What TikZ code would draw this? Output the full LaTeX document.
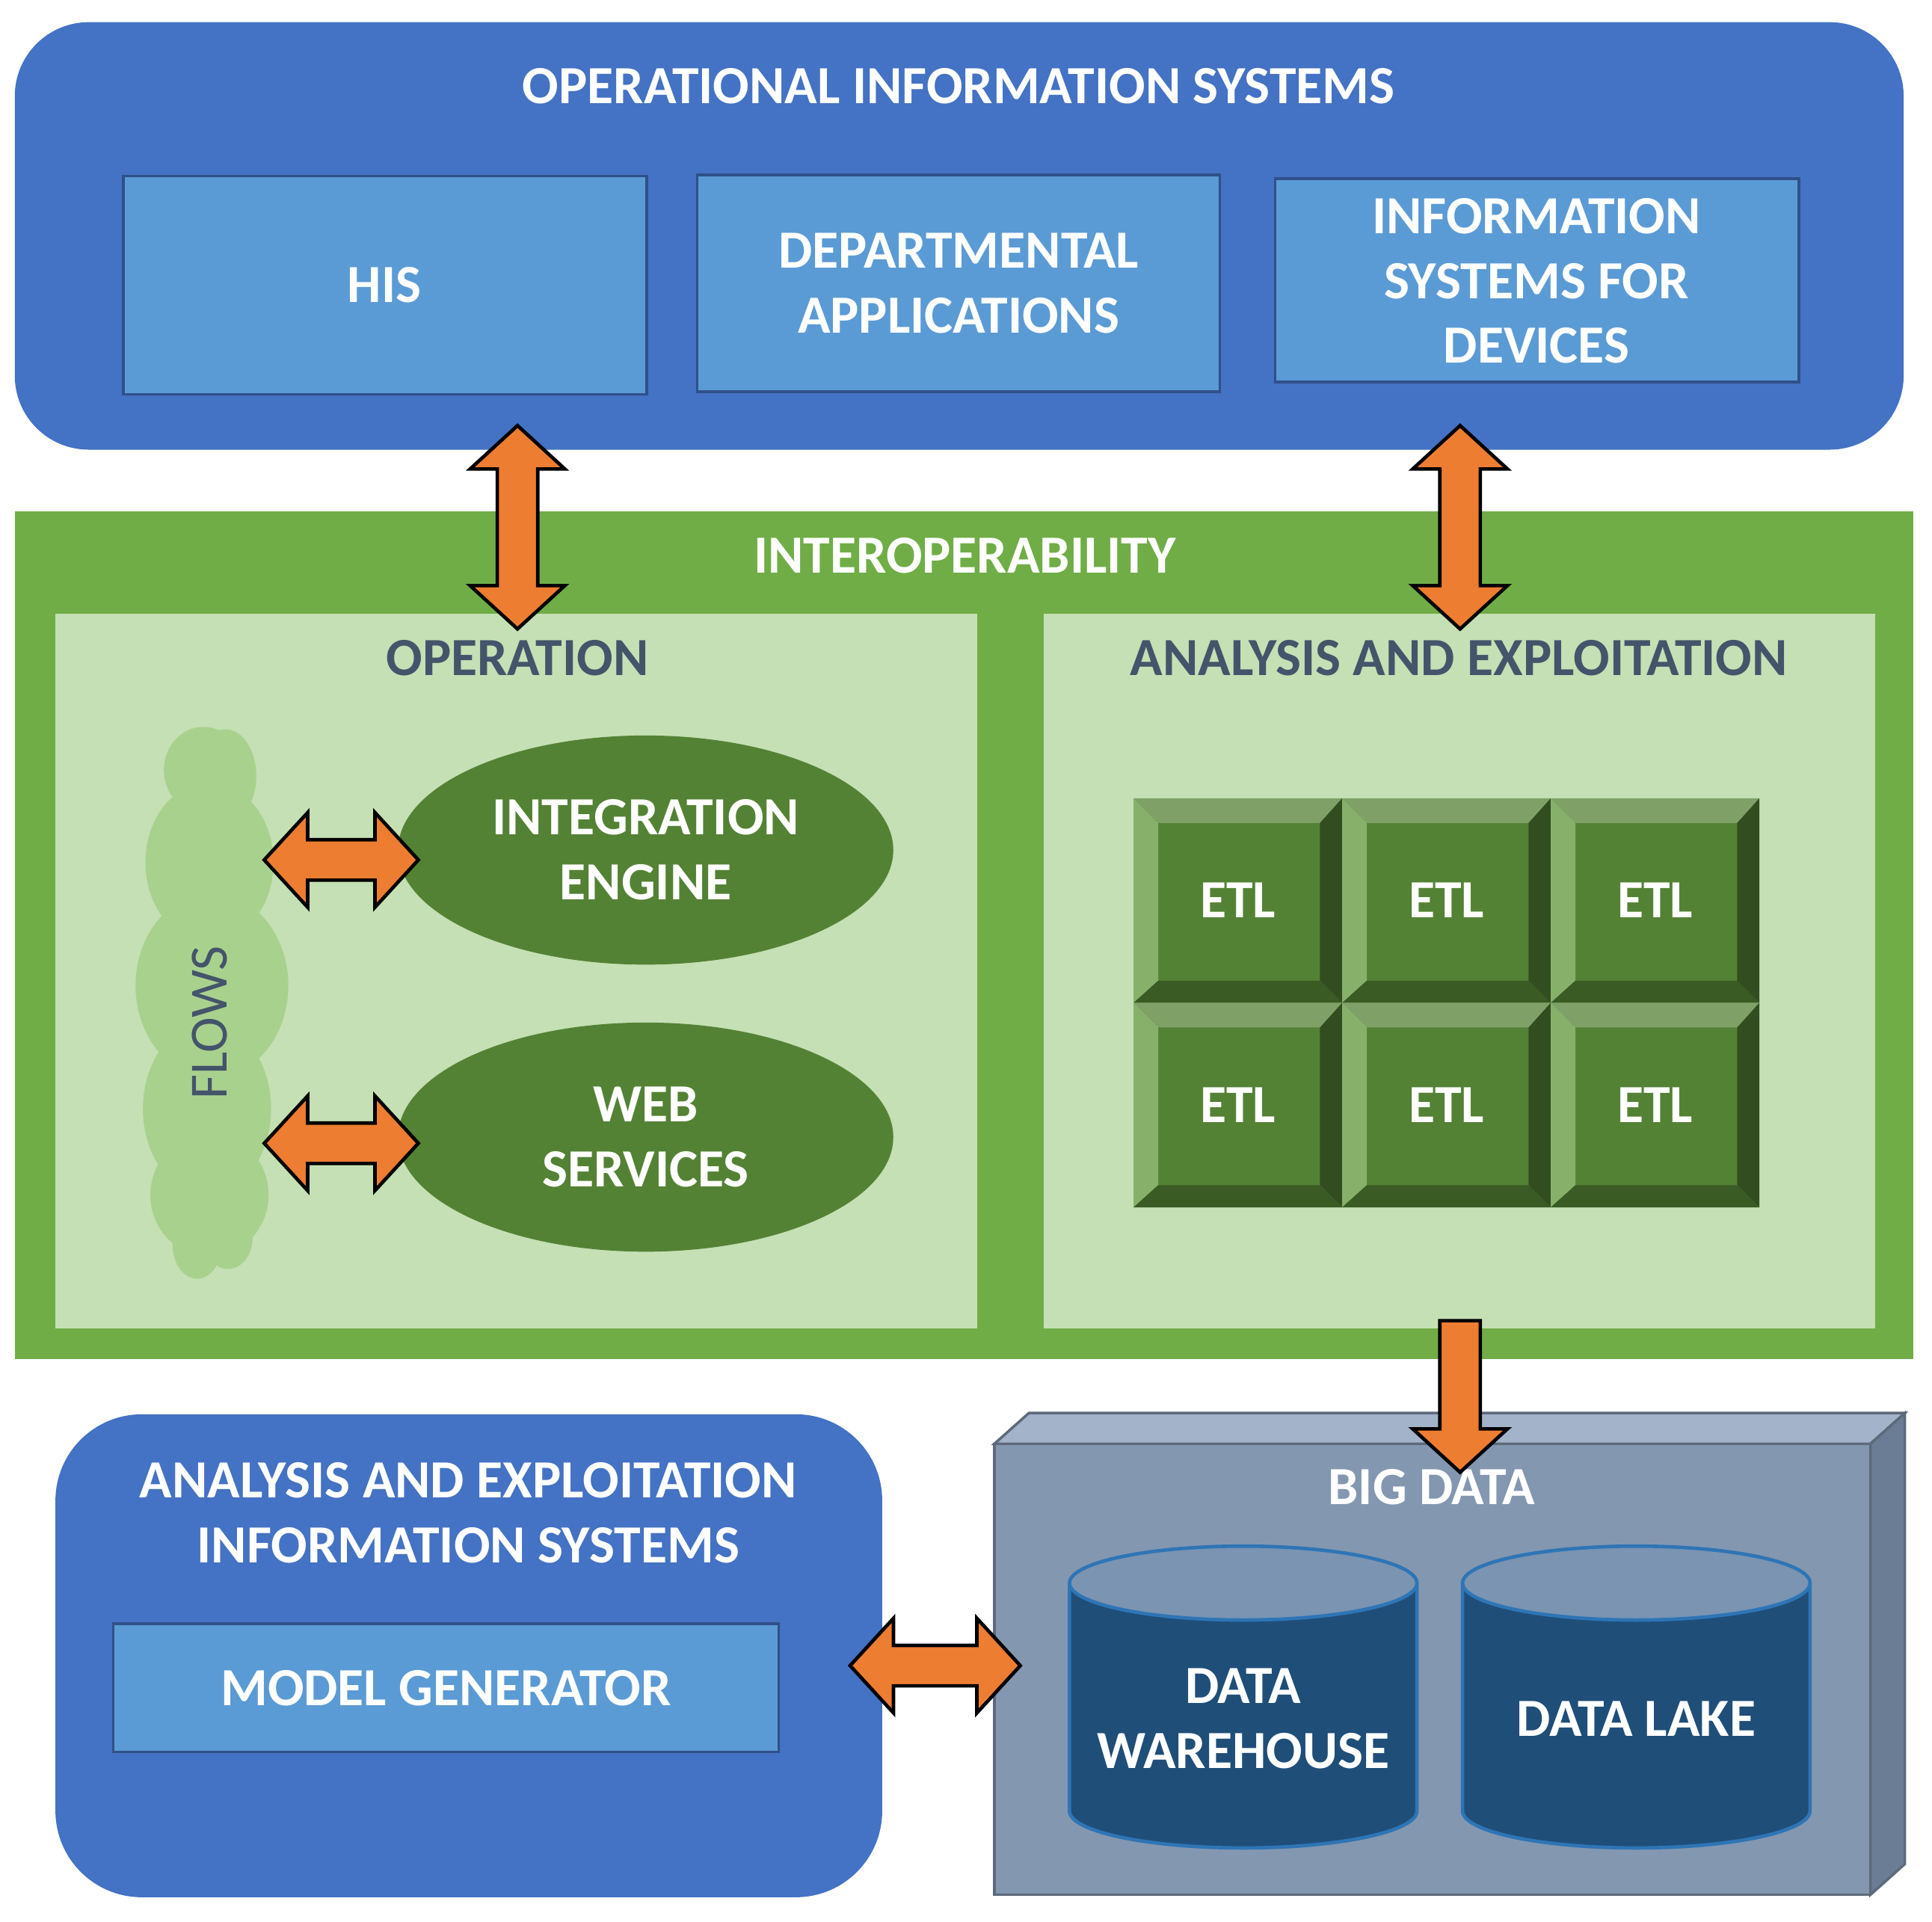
\documentclass[tikz,border=0pt]{standalone}
\usepackage{fontspec}
\setmainfont{Carlito}
\usetikzlibrary{shapes.arrows}
\definecolor{oisblue}{HTML}{4472C4}
\definecolor{boxblue}{HTML}{5B9BD5}
\definecolor{intgreen}{HTML}{70AD47}
\definecolor{panelgreen}{HTML}{C5E0B4}
\definecolor{darkgreen}{HTML}{548235}
\definecolor{cloudgreen}{HTML}{A9D18E}
\definecolor{slate}{HTML}{44546A}
\definecolor{arrorange}{HTML}{ED7D31}
\definecolor{bdfront}{HTML}{8497B0}
\definecolor{bdtop}{HTML}{A3B3C9}
\definecolor{bdside}{HTML}{6A7D95}
\definecolor{cylbody}{HTML}{1F4E79}
\definecolor{cyltop}{HTML}{7A94B2}
\definecolor{cylline}{HTML}{2E75B6}
\begin{document}
\begin{tikzpicture}[x=0.01cm,y=-0.01cm,
  txt/.style={font=\fontsize{12.4}{15}\selectfont\bfseries,text=white,align=center},
  head/.style={font=\fontsize{12.4}{15}\selectfont\bfseries,text=slate,align=center},
  sysbox/.style={fill=boxblue,draw=oisblue!70!black,line width=0.6pt},
  dbl/.style={double arrow,draw=black,fill=arrorange,line width=0.8pt,inner sep=1.5mm,
    double arrow head extend=2.2mm,double arrow tip angle=95},
  sgl/.style={single arrow,draw=black,fill=arrorange,line width=0.8pt,inner sep=1.5mm,
    single arrow head extend=2.2mm,single arrow tip angle=95},
  etl/.style={font=\fontsize{12.4}{15}\selectfont\bfseries,text=white}]
\useasboundingbox (0,0) rectangle (1568,1560);
% operational information systems
\fill[oisblue,rounded corners=6mm] (12,18) rectangle (1545,365);
\node[txt] (ois) at (778,70) {OPERATIONAL INFORMATION SYSTEMS};
\draw[sysbox] (100,143) rectangle (525,320);
\node[txt] (his) at (312,231) {HIS};
\draw[sysbox] (566,142) rectangle (990,318);
\node[txt] (dep) at (778,230) {DEPARTMENTAL\\APPLICATIONS};
\draw[sysbox] (1035,145) rectangle (1460,310);
\node[txt] (isd) at (1247,228) {INFORMATION\\SYSTEMS FOR\\DEVICES};
% interoperability
\fill[intgreen] (12,415) rectangle (1553,1103);
\node[txt] (iop) at (783,451) {INTEROPERABILITY};
\fill[panelgreen] (45,498) rectangle (793,1078);
\fill[panelgreen] (847,498) rectangle (1522,1078);
\node[head] (op) at (420,534) {OPERATION};
\node[head] (ae) at (1184,534) {ANALYSIS AND EXPLOITATION};
% flows cloud
\fill[cloudgreen] (165,625) ellipse [x radius=32,y radius=35]
  (183,630) ellipse [x radius=25,y radius=38]
  (170,700) ellipse [x radius=52,y radius=65]
  (172,800) ellipse [x radius=62,y radius=75]
  (168,900) ellipse [x radius=52,y radius=70]
  (170,970) ellipse [x radius=48,y radius=50]
  (160,1010) ellipse [x radius=20,y radius=28]
  (185,1005) ellipse [x radius=20,y radius=25];
\node[font=\fontsize{12.4}{15}\selectfont,text=slate,rotate=90] (flows) at (170,830) {FLOWS};
% ellipses
\fill[darkgreen] (524,690) ellipse [x radius=201,y radius=93];
\node[txt] (ie) at (524,690) {INTEGRATION\\ENGINE};
\fill[darkgreen] (524,923) ellipse [x radius=201,y radius=93];
\node[txt] (ws) at (524,923) {WEB\\SERVICES};
\node[dbl,minimum height=12.5mm] (a1) at (277,698) {};
\node[dbl,minimum height=12.5mm] (a2) at (277,928) {};
% vertical arrows
\node[dbl,minimum height=16.5mm,rotate=90] (a3) at (420,428) {};
\node[dbl,minimum height=16.5mm,rotate=90] (a4) at (1185,428) {};
% ETL grid
\foreach \c in {0,1,2}{
  \foreach \r in {0,1}{
    \pgfmathsetmacro{\xa}{920+169.3*\c}
    \pgfmathsetmacro{\ya}{648+166*\r}
    \pgfmathsetmacro{\xb}{\xa+169.3}
    \pgfmathsetmacro{\yb}{\ya+166}
    \pgfmathsetmacro{\xi}{\xa+20}
    \pgfmathsetmacro{\yi}{\ya+20}
    \pgfmathsetmacro{\xj}{\xb-18}
    \pgfmathsetmacro{\yj}{\yb-18}
    \fill[darkgreen] (\xa,\ya) rectangle (\xb,\yb);
    \fill[darkgreen!75!white] (\xa,\ya) -- (\xb,\ya) -- (\xj,\yi) -- (\xi,\yi) -- cycle;
    \fill[cloudgreen!60!darkgreen] (\xa,\ya) -- (\xi,\yi) -- (\xi,\yj) -- (\xa,\yb) -- cycle;
    \fill[darkgreen!60!black] (\xb,\ya) -- (\xj,\yi) -- (\xj,\yj) -- (\xb,\yb) -- cycle;
    \fill[darkgreen!70!black] (\xa,\yb) -- (\xi,\yj) -- (\xj,\yj) -- (\xb,\yb) -- cycle;
    \node[etl] at ({(\xa+\xb)/2},{(\ya+\yb)/2}) {ETL};
  }}
% analysis systems
\fill[oisblue,rounded corners=7mm] (45,1148) rectangle (716,1540);
\node[txt] (aes) at (380,1228) {ANALYSIS AND EXPLOITATION\\INFORMATION SYSTEMS};
\draw[sysbox] (92,1318) rectangle (632,1422);
\node[txt] (mg) at (362,1370) {MODEL GENERATOR};
% big data cube
\draw[bdfront!70!black,fill=bdtop,line width=0.6pt] (807,1172) -- (835,1147) -- (1546,1147) -- (1518,1172) -- cycle;
\draw[bdfront!70!black,fill=bdside,line width=0.6pt] (1518,1172) -- (1546,1147) -- (1546,1513) -- (1518,1538) -- cycle;
\draw[bdfront!70!black,fill=bdfront,line width=0.6pt] (807,1172) rectangle (1518,1538);
\node[txt] (bd) at (1162,1207) {BIG DATA};
\node[sgl,minimum height=12.3mm,rotate=-90] (a5) at (1185,1126) {};
% cylinders
\foreach \cx in {1009,1328}{
  \draw[cylline,fill=cylbody,line width=0.8pt] (\cx-141,1285) -- (\cx-141,1470)
     arc[start angle=180,end angle=0,x radius=141,y radius=30] -- (\cx+141,1285);
  \draw[cylline,fill=cyltop,line width=0.8pt] (\cx,1285) ellipse [x radius=141,y radius=30];
}
\node[txt] (dwt) at (1009,1395) {DATA\\WAREHOUSE};
\node[txt] (dlt) at (1328,1395) {DATA LAKE};
\node[dbl,minimum height=13.8mm] (a6) at (759,1352) {};
\end{tikzpicture}
\end{document}
